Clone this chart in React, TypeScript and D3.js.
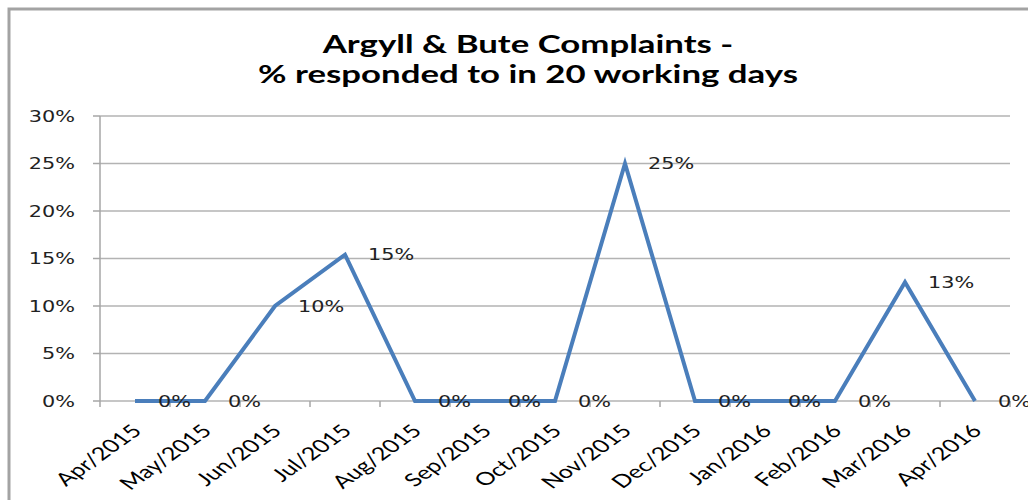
import { useEffect, useRef } from 'react';
import * as d3 from 'd3';

// chart data
const months = [
    'Apr/2015', 'May/2015', 'Jun/2015', 'Jul/2015', 'Aug/2015', 'Sep/2015', 'Oct/2015',
    'Nov/2015', 'Dec/2015', 'Jan/2016', 'Feb/2016', 'Mar/2016', 'Apr/2016',
];
const pctResponded = [0, 0, 10, 15.4, 0, 0, 0, 25, 0, 0, 0, 12.5, 0];
const pointLabels = ['0%', '0%', '10%', '15%', '0%', '0%', '0%', '25%', '0%', '0%', '0%', '13%', '0%'];
const yTicks = [0, 5, 10, 15, 20, 25, 30];
const titleLines = ['Argyll & Bute Complaints -', '% responded to in 20 working days'];

const App = () => {
    const svgRef = useRef<SVGSVGElement>(null);

    useEffect(() => {
        const width = 1028;
        const height = 500;
        const margin = { top: 116, right: 18, bottom: 99, left: 100 };
        const stretch = 1.4; // the reference looks stretched sideways, text too

        const svg = d3.select(svgRef.current).attr('width', width).attr('height', height);
        svg.selectAll('*').remove();

        // outer frame
        svg.append('rect')
            .attr('x', 9).attr('y', 9)
            .attr('width', width + 20).attr('height', height + 20)
            .attr('fill', 'white')
            .attr('stroke', '#a3a3a3')
            .attr('stroke-width', 3);

        // title
        svg.selectAll('.title')
            .data(titleLines)
            .enter()
            .append('text')
            .attr('class', 'title')
            .attr('transform', (d, i) => `translate(${width / 2 + 14}, ${53 + i * 30}) scale(${stretch + 0.05},1)`)
            .attr('text-anchor', 'middle')
            .style('font-family', 'Lato, sans-serif')
            .style('font-weight', 'bold')
            .style('font-size', '24px')
            .style('fill', '#000')
            .text(d => d);

        const xScale = d3.scaleBand()
            .domain(months)
            .range([margin.left, width - margin.right]);

        const yScale = d3.scaleLinear()
            .domain([0, 30])
            .range([height - margin.bottom, margin.top]);

        const g = svg.append('g');

        // horizontal grid lines
        g.selectAll('.grid')
            .data(yTicks)
            .enter()
            .append('line')
            .attr('x1', margin.left)
            .attr('x2', width - margin.right)
            .attr('y1', d => yScale(d))
            .attr('y2', d => yScale(d))
            .attr('stroke', '#b3b3b3')
            .attr('stroke-width', 1.5);

        // y axis line + ticks
        g.append('line')
            .attr('x1', margin.left).attr('x2', margin.left)
            .attr('y1', yScale(30)).attr('y2', yScale(0))
            .attr('stroke', '#a6a6a6')
            .attr('stroke-width', 1.5);
        g.selectAll('.ytick')
            .data(yTicks)
            .enter()
            .append('line')
            .attr('x1', margin.left - 7).attr('x2', margin.left)
            .attr('y1', d => yScale(d)).attr('y2', d => yScale(d))
            .attr('stroke', '#a6a6a6')
            .attr('stroke-width', 1.5);

        g.selectAll('.ylabel')
            .data(yTicks)
            .enter()
            .append('text')
            .attr('transform', d => `translate(75, ${yScale(d)}) scale(${stretch - 0.1},1)`)
            .attr('text-anchor', 'end')
            .attr('dominant-baseline', 'central')
            .style('font-family', '"DejaVu Sans", sans-serif')
            .style('font-size', '16px')
            .style('fill', '#222')
            .text(d => `${d}%`);

        // x axis ticks at band edges
        g.selectAll('.xtick')
            .data(months.concat(['end']))
            .enter()
            .append('line')
            .attr('x1', (d, i) => margin.left + i * xScale.bandwidth())
            .attr('x2', (d, i) => margin.left + i * xScale.bandwidth())
            .attr('y1', yScale(0))
            .attr('y2', yScale(0) + 6)
            .attr('stroke', '#a6a6a6')
            .attr('stroke-width', 1.5);

        g.selectAll('.xlabel')
            .data(months)
            .enter()
            .append('text')
            .attr('transform', d => `translate(${xScale(d)! + xScale.bandwidth() / 2 + 8}, ${yScale(0) + 31}) scale(${stretch},1) rotate(-45)`)
            .attr('text-anchor', 'end')
            .style('font-family', 'Lato, sans-serif')
            .style('font-size', '18px')
            .style('fill', '#000')
            .text(d => d);

        // the line
        const line = d3.line<number>()
            .x((d, i) => xScale(months[i])! + xScale.bandwidth() / 2)
            .y(d => yScale(d));

        g.append('path')
            .datum(pctResponded)
            .attr('d', line)
            .attr('fill', 'none')
            .attr('stroke', '#4a7ebb')
            .attr('stroke-width', 4)
            .attr('stroke-linejoin', 'miter');

        // data labels to the right of each point
        g.selectAll('.plabel')
            .data(pctResponded)
            .enter()
            .append('text')
            .attr('transform', (d, i) => `translate(${xScale(months[i])! + xScale.bandwidth() / 2 + 23}, ${yScale(d)}) scale(${stretch - 0.1},1)`)
            .attr('dominant-baseline', 'central')
            .style('font-family', '"DejaVu Sans", sans-serif')
            .style('font-size', '16px')
            .style('fill', '#222')
            .text((d, i) => pointLabels[i]);
    }, []);

    return <svg ref={svgRef} style={{ position: 'absolute', left: 0, top: 0 }} />;
};

export default App;
